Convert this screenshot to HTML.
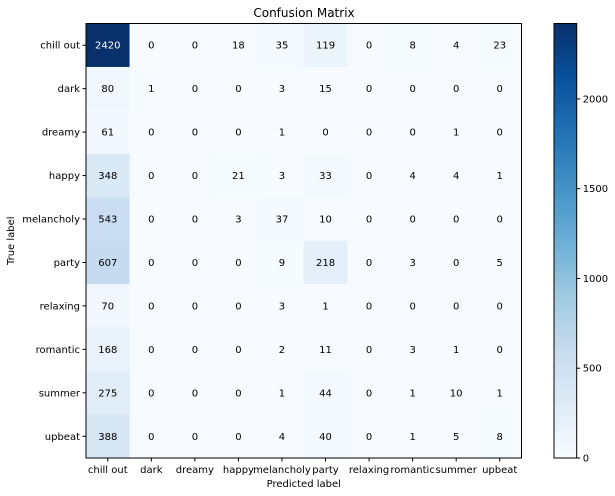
<!DOCTYPE html>
<html><head><meta charset="utf-8"><style>
html,body{margin:0;padding:0;background:#fff;}
svg{display:block;font-family:"DejaVu Sans","Liberation Sans",sans-serif;}
</style></head><body>
<svg id="chart" width="615" height="496" xmlns="http://www.w3.org/2000/svg">
<text x="304" y="17" font-size="12" text-anchor="middle">Confusion Matrix</text>
<g id="cells"></g>
<g id="axes"></g>
<g id="cbar"></g>
</svg>
<script>
const categories=["chill out","dark","dreamy","happy","melancholy","party","relaxing","romantic","summer","upbeat"];
const row0=[2420,0,0,18,35,119,0,8,4,23];
const row1=[80,1,0,0,3,15,0,0,0,0];
const row2=[61,0,0,0,1,0,0,0,1,0];
const row3=[348,0,0,21,3,33,0,4,4,1];
const row4=[543,0,0,3,37,10,0,0,0,0];
const row5=[607,0,0,0,9,218,0,3,0,5];
const row6=[70,0,0,0,3,1,0,0,0,0];
const row7=[168,0,0,0,2,11,0,3,1,0];
const row8=[275,0,0,0,1,44,0,1,10,1];
const row9=[388,0,0,0,4,40,0,1,5,8];
const matrix=[row0,row1,row2,row3,row4,row5,row6,row7,row8,row9];
const cbarTicks=[0,500,1000,1500,2000];

const NS="http://www.w3.org/2000/svg";
const L=86,T=23.5,W=435.5,H=434.5,n=categories.length;
const cw=W/n,ch=H/n;
let vmax=0;matrix.forEach(r=>r.forEach(v=>{if(v>vmax)vmax=v;}));
const xPos=i=>L+i*cw, yPos=j=>T+j*ch;
const blues=[[247,251,255],[222,235,247],[198,219,239],[158,202,225],[107,174,214],[66,146,198],[33,113,181],[8,81,156],[8,48,107]];
function color(v){let t=Math.max(0,Math.min(1,v/vmax))*(blues.length-1);let i=Math.min(Math.floor(t),blues.length-2);let f=t-i;const a=blues[i],b=blues[i+1];return `rgb(${a.map((c,k)=>Math.round(c+(b[k]-c)*f)).join(",")})`;}
function mk(tag,attrs,parent){const e=document.createElementNS(NS,tag);for(const k in attrs)e.setAttribute(k,attrs[k]);parent.appendChild(e);return e;}
const cells=document.getElementById("cells"),axes=document.getElementById("axes"),cbar=document.getElementById("cbar");
matrix.forEach((r,j)=>r.forEach((v,i)=>{
 const rc=mk("rect",{x:xPos(i),y:yPos(j),width:cw+0.5,height:ch+0.5,fill:color(v)},cells);
 
 
 const t=mk("text",{x:xPos(i)+cw/2,y:yPos(j)+ch/2+3.5,"font-size":"10","text-anchor":"middle",fill:v>vmax/2?"#fff":"#000"},cells);
 t.textContent=v;
 
 
}));
const fr=mk("rect",{x:L,y:T,width:W,height:H,fill:"none",stroke:"#000","stroke-width":"1"},axes);


categories.forEach((c,i)=>{
 const x=xPos(i)+cw/2;
 mk("line",{x1:x,x2:x,y1:T+H,y2:T+H+3.5,stroke:"#000"},axes);
 const t=mk("text",{x:x,y:T+H+15,"font-size":"10","text-anchor":"middle"},axes);
 t.textContent=c;
 
 
 const y=yPos(i)+ch/2;
 mk("line",{x1:L-3.5,x2:L,y1:y,y2:y,stroke:"#000"},axes);
 const t2=mk("text",{x:L-6,y:y+3.5,"font-size":"10","text-anchor":"end"},axes);
 t2.textContent=c;
 
 
});
const xt=mk("text",{x:L+W/2,y:487,"font-size":"10","text-anchor":"middle"},axes);
xt.textContent="Predicted label";


const yt=mk("text",{x:0,y:0,"font-size":"10","text-anchor":"middle",transform:`translate(14,${T+H/2}) rotate(-90)`},axes);
yt.textContent="True label";


const CX=554,CW=22.7;
const defs=mk("defs",{},cbar);
const g=mk("linearGradient",{id:"bg",x1:"0",y1:"1",x2:"0",y2:"0"},defs);
blues.forEach((b,k)=>mk("stop",{offset:k/(blues.length-1),"stop-color":`rgb(${b.join(",")})`},g));
const cb=mk("rect",{x:CX,y:T,width:CW,height:H,fill:"url(#bg)",stroke:"#000","stroke-width":"1"},cbar);


const cy=v=>T+H-(v/vmax)*H;
cbarTicks.forEach(v=>{
 const y=cy(v);
 mk("line",{x1:CX+CW,x2:CX+CW+3.5,y1:y,y2:y,stroke:"#000"},cbar);
 const t=mk("text",{x:CX+CW+6,y:y+3.5,"font-size":"10"},cbar);
 t.textContent=v;
 
 
});
</script>
</body></html>
